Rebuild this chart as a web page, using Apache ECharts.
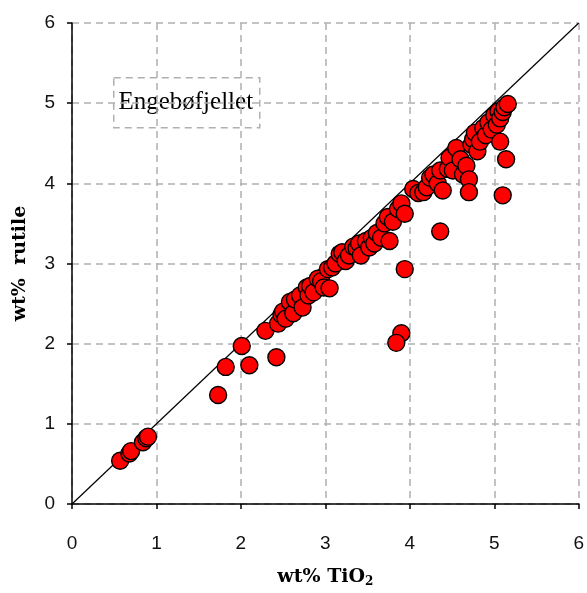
<!DOCTYPE html>
<html>
<head>
<meta charset="utf-8">
<script src="https://cdn.jsdelivr.net/npm/echarts@6/dist/echarts.min.js"></script>
<style>html,body{margin:0;padding:0;background:#fff;}#c{width:587px;height:593px;}</style>
</head>
<body>
<div id="c"></div>
<script>
const xTicks = [0, 1, 2, 3, 4, 5, 6];
const yTicks = [0, 1, 2, 3, 4, 5, 6];
const oneToOne = [[0, 0], [6, 6]];
const tio2 = [0.57,0.68,0.70,0.84,0.88,0.90,1.73,1.82,2.01,2.10,2.29,2.42,2.44,2.48,2.50,2.53,2.58,2.62,2.64,2.70,2.73,2.78,2.80,2.82,2.86,2.91,2.95,2.98,3.03,3.05,3.08,3.12,3.17,3.20,3.24,3.28,3.33,3.37,3.40,3.42,3.48,3.52,3.55,3.58,3.61,3.66,3.70,3.74,3.76,3.80,3.86,3.90,3.94,4.04,4.10,4.16,4.20,4.24,4.28,4.33,4.36,4.39,4.45,4.47,4.51,4.55,4.60,4.63,4.67,4.70,4.70,4.73,4.75,4.77,4.80,4.83,4.87,4.90,4.93,4.97,5.00,5.03,5.05,5.07,5.07,5.10,5.12,5.16,5.14,5.10,4.36,3.94,3.90,3.84];
const rutile = [0.54,0.63,0.66,0.77,0.82,0.84,1.36,1.71,1.97,1.73,2.16,1.83,2.25,2.36,2.40,2.31,2.52,2.38,2.55,2.60,2.45,2.70,2.60,2.72,2.64,2.81,2.78,2.70,2.93,2.69,2.95,3.00,3.12,3.14,3.03,3.10,3.21,3.19,3.25,3.10,3.28,3.20,3.32,3.25,3.38,3.32,3.50,3.58,3.28,3.52,3.68,3.75,3.62,3.93,3.88,3.89,3.95,4.07,4.11,4.00,4.16,3.91,4.18,4.32,4.16,4.44,4.30,4.11,4.22,4.05,3.89,4.48,4.55,4.63,4.40,4.52,4.69,4.60,4.76,4.67,4.85,4.73,4.90,4.81,4.52,4.89,4.95,4.99,4.30,3.85,3.40,2.93,2.13,2.01];
const labelText = 'Engebøfjellet';

const points = tio2.map((x, i) => [x, rutile[i]]);
const chart = echarts.init(document.getElementById('c'), null, {renderer: 'canvas'});
const tickFont = {color: '#111', fontSize: 19, fontFamily: 'Liberation Sans'};
const splitDash = {show: true, lineStyle: {color: '#b0b0b0', width: 1.5, type: [7, 5]}};
chart.setOption({
  animation: false,
  backgroundColor: '#fff',
  grid: {left: 72, right: 8, top: 23, bottom: 81, containLabel: false},
  xAxis: {
    type: 'value', min: xTicks[0], max: xTicks[xTicks.length - 1], interval: 1,
    axisLine: {show: true, onZero: false, lineStyle: {color: '#000', width: 1.5}},
    axisTick: {show: true, length: 5, lineStyle: {color: '#000', width: 1.5}},
    axisLabel: Object.assign({margin: 30}, tickFont),
    splitLine: splitDash,
    name: 'wt% TiO{sub|2}', nameLocation: 'middle', nameGap: 62,
    nameTextStyle: {color: '#000', fontSize: 19, fontWeight: 'bold', fontFamily: 'DejaVu Serif',
      rich: {sub: {fontSize: 12, fontWeight: 'bold', fontFamily: 'DejaVu Serif', padding: [10, 0, 0, 0]}}}
  },
  yAxis: {
    type: 'value', min: yTicks[0], max: yTicks[yTicks.length - 1], interval: 1,
    axisLine: {show: true, onZero: false, lineStyle: {color: '#000', width: 1.5}},
    axisTick: {show: true, length: 5, lineStyle: {color: '#000', width: 1.5}},
    axisLabel: Object.assign({margin: 17}, tickFont),
    splitLine: splitDash,
    name: 'wt%  rutile', nameLocation: 'middle', nameGap: 42, nameRotate: 90,
    nameTextStyle: {color: '#000', fontSize: 19, fontWeight: 'bold', fontFamily: 'DejaVu Serif'}
  },
  graphic: [{
    type: 'group', left: 113, top: 77, z: 10,
    children: [
      {type: 'rect', shape: {x: 0, y: 0, width: 146, height: 50},
       style: {fill: '#fff', stroke: '#b0b0b0', lineWidth: 1.5, lineDash: [7, 5]}},
      {type: 'text', x: 72, y: 25,
       style: {text: labelText, fill: '#000', fontSize: 25, fontFamily: 'Liberation Serif', align: 'center', verticalAlign: 'middle'}}
    ]
  }],
  series: [
    {type: 'line', data: oneToOne, symbol: 'none', lineStyle: {color: '#000', width: 1.2}, z: 2, silent: true},
    {type: 'scatter', data: points, symbol: 'circle', symbolSize: 17,
     itemStyle: {color: '#ff0000', borderColor: '#000', borderWidth: 1.4, opacity: 1}, z: 3}
  ]
});
</script>
</body>
</html>
